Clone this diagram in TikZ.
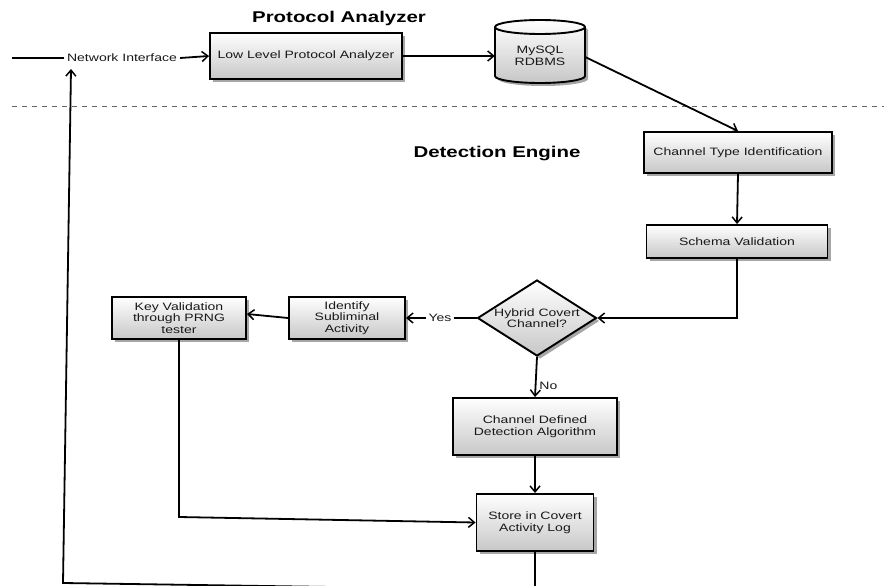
\documentclass[tikz,border=0pt]{standalone}
\usepackage{fontspec}
\setmainfont{Liberation Sans}[FakeStretch=1.31]
\usetikzlibrary{arrows.meta,shapes.geometric,shadows}
\begin{document}
\begin{tikzpicture}[x=1pt,y=-1pt,
  font=\fontsize{10.7}{11.6}\selectfont,
  lbl/.style={text=black!90,inner sep=2pt},
  box/.style={draw=black,line width=1.9pt,rectangle,top color=white,bottom color=black!22,
    drop shadow={shadow xshift=3pt,shadow yshift=-3pt,fill=black,opacity=0.35},
    align=center,inner sep=2pt,text=black!90},
  decision/.style={draw=black,line width=1.9pt,diamond,aspect=1.57,inner sep=0pt,
    top color=white,bottom color=black!22,
    drop shadow={shadow xshift=3pt,shadow yshift=-3pt,fill=black,opacity=0.35},
    align=center,text=black!90,minimum width=119pt,minimum height=76pt},
  titlelbl/.style={font=\fontsize{15.6}{18}\selectfont\bfseries,text=black},
  conn/.style={line width=1.8pt,-{Straight Barb[length=6pt,width=10pt,line width=1.5pt]}},
  plain/.style={line width=1.8pt},
]
\useasboundingbox (0,0) rectangle (884,586);
\clip (0,0) rectangle (884,586);

% titles
\node[titlelbl] (pa) at (339,18) {Protocol Analyzer};
\node[titlelbl] (de) at (497,154) {Detection Engine};

% separator
\coordinate (dl) at (12,106);
\coordinate (dr) at (884,106);
\draw[black!60,line width=1pt,dash pattern=on 5pt off 5pt] (dl) -- (dr);

% database cylinder
\fill[black,opacity=0.35,shift={(3,3)}]
  (495,27) -- (495,76) arc[start angle=180,end angle=0,x radius=45,y radius=7]
  -- (585,27) arc[start angle=0,end angle=-180,x radius=45,y radius=7] -- cycle;
\shade[top color=white,bottom color=black!22]
  (495,27) -- (495,76) arc[start angle=180,end angle=0,x radius=45,y radius=7]
  -- (585,27) arc[start angle=0,end angle=-180,x radius=45,y radius=7] -- cycle;
\draw[line width=1.9pt]
  (495,27) -- (495,76) arc[start angle=180,end angle=0,x radius=45,y radius=7]
  -- (585,27) arc[start angle=0,end angle=-180,x radius=45,y radius=7] -- cycle;
\draw[line width=1.9pt] (495,27) arc[start angle=180,end angle=0,x radius=45,y radius=7];
\node[lbl,align=center,minimum width=90pt,inner sep=0pt] (db) at (540,56) {MySQL\\RDBMS};

% nodes
\node[lbl,inner sep=3pt] (netif) at (122,58) {Network Interface};
\node[box,minimum width=192pt,minimum height=46pt] (llpa) at (306,56) {Low Level Protocol Analyzer};
\node[box,minimum width=188pt,minimum height=41pt] (cti) at (738,152.5) {Channel Type Identification};
\node[box,minimum width=181pt,minimum height=33pt] (sv) at (737,241.5) {Schema Validation};
\node[decision] (hcc) at (537,318) {Hybrid Covert\\Channel?};
\node[lbl] (yes) at (440,318) {Yes};
\node[box,minimum width=116pt,minimum height=42pt] (ident) at (347,318) {Identify\\Subliminal\\Activity};
\node[box,minimum width=134pt,minimum height=42pt] (key) at (179,318) {Key Validation\\through PRNG\\tester};
\node[box,minimum width=164pt,minimum height=57pt] (cda) at (535,426.5) {Channel Defined\\Detection Algorithm};
\node[box,minimum width=117pt,minimum height=57pt] (store) at (535,522.5) {Store in Covert\\Activity Log};

% free ends
\coordinate (start) at (12,58);
\coordinate (kc) at (179,517);
\coordinate (b1) at (535,590);
\coordinate (b2) at (63,583);
\coordinate (ni) at (71,69);

% connectors
\draw[plain,line width=1.4pt] (start) -- (netif.west);
\draw[conn] (netif.east) -- (llpa.west);
\draw[conn] (llpa.east) -- (db.west);
\draw[conn] ([yshift=-1pt]db.east) -- (cti.north);
\draw[conn] (cti.south) -- (sv.north);
\draw[conn] (sv.south) |- (hcc.east);
\draw[plain] (hcc.west) -- (yes.east);
\draw[conn] (yes.west) -- (ident.east);
\draw[conn] (ident.west) -- ([yshift=4pt]key.east);
\draw[conn] (hcc.south) -- node[lbl,pos=0.72,right,xshift=1pt] (no) {No} (cda.north);
\draw[conn] (cda.south) -- (store.north);
\draw[conn] (key.south) -- (kc) -- (store.west);
\draw[conn] (store.south) -- (b1) -- (b2) -- (ni);
\end{tikzpicture}
\end{document}
